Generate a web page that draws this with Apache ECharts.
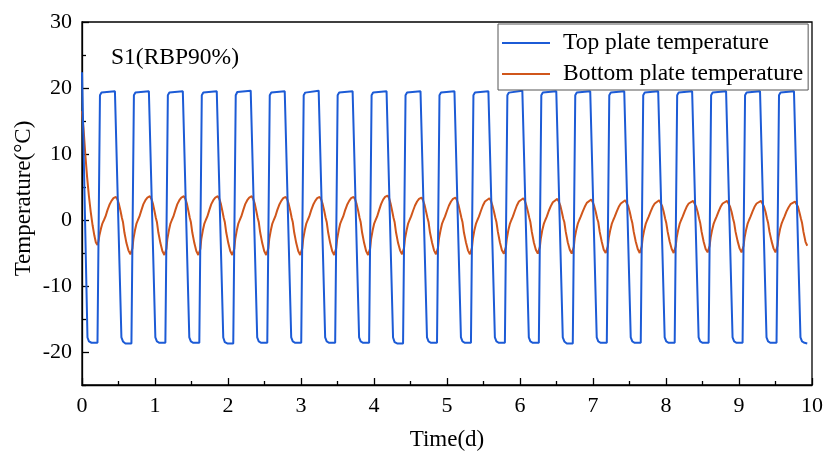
<!DOCTYPE html>
<html>
<head>
    <meta charset="utf-8">
    <title>S1 plate temperature</title>
    <script src="https://cdn.jsdelivr.net/npm/echarts@6/dist/echarts.min.js"></script>
    <style>
        html, body { margin: 0; padding: 0; background: #fff; }
        #main { width: 826px; height: 456px; }
    </style>
</head>
<body>
    <div id="main"></div>
    <script>
        // start of each rise of the top plate (days)
        var cycleStart = [0.212, 0.677, 1.142, 1.607, 2.072, 2.538, 3.003, 3.468, 3.933, 4.398,
            4.863, 5.328, 5.793, 6.258, 6.723, 7.189, 7.654, 8.119, 8.584, 9.049, 9.514];

        // top plate: points inside one cycle (days after cycle start) and the values per cycle
        var topOffset = [0, 0.034, 0.055, 0.082, 0.239, 0.328, 0.349, 0.383];
        var topRows = [
            [-18.6, 18.9, 19.3, 19.5, 19.5, -17.8, -18.4, -18.7],
            [-18.7, 18.9, 19.3, 19.4, 19.5, -17.8, -18.4, -18.6],
            [-18.6, 18.9, 19.3, 19.5, 19.5, -17.8, -18.4, -18.6],
            [-18.6, 18.9, 19.3, 19.5, 19.5, -17.8, -18.5, -18.7],
            [-18.7, 18.9, 19.4, 19.5, 19.6, -17.8, -18.4, -18.6],
            [-18.6, 18.9, 19.3, 19.5, 19.5, -17.8, -18.4, -18.6],
            [-18.6, 18.9, 19.3, 19.5, 19.6, -17.8, -18.4, -18.6],
            [-18.6, 18.9, 19.3, 19.4, 19.5, -17.8, -18.4, -18.6],
            [-18.6, 18.9, 19.3, 19.5, 19.5, -17.8, -18.5, -18.7],
            [-18.7, 18.9, 19.3, 19.5, 19.5, -17.8, -18.4, -18.6],
            [-18.6, 18.9, 19.3, 19.5, 19.5, -17.8, -18.4, -18.6],
            [-18.6, 18.9, 19.3, 19.4, 19.5, -17.8, -18.4, -18.6],
            [-18.6, 18.9, 19.3, 19.5, 19.6, -17.8, -18.4, -18.6],
            [-18.6, 18.9, 19.3, 19.5, 19.5, -17.8, -18.4, -18.7],
            [-18.7, 18.9, 19.3, 19.5, 19.5, -17.8, -18.4, -18.6],
            [-18.6, 18.9, 19.3, 19.4, 19.5, -17.8, -18.4, -18.6],
            [-18.6, 18.9, 19.3, 19.5, 19.5, -17.8, -18.4, -18.6],
            [-18.6, 18.9, 19.3, 19.5, 19.5, -17.8, -18.4, -18.6],
            [-18.6, 18.9, 19.3, 19.4, 19.5, -17.8, -18.4, -18.6],
            [-18.6, 18.9, 19.3, 19.5, 19.5, -17.8, -18.4, -18.6],
            [-18.6, 18.9, 19.3, 19.5, 19.5, -17.8, -18.4, -18.6]
        ];
        var topHead = [[0, 22.4], [0.075, -17.8], [0.095, -18.4], [0.13, -18.6]];
        var topTail = [[9.935, -18.7]];

        // bottom plate: same idea, denser points per cycle
        var bottomOffset = [0, 0.014, 0.027, 0.048, 0.068, 0.089, 0.109, 0.137, 0.164, 0.192, 0.219,
            0.253, 0.274, 0.294, 0.315, 0.335, 0.349, 0.369, 0.397, 0.424, 0.451];
        var bottomRows = [
            [-3.8, -3.2, -2.3, -1.3, -0.5, 0.0, 0.5, 1.5, 2.3, 2.9, 3.3, 3.5, 3.1, 2.4, 1.4, 0.3, -0.3, -1.9, -3.5, -4.6, -5.2],
            [-5.5, -4.3, -2.9, -1.6, -0.6, 0.0, 0.5, 1.5, 2.4, 3.0, 3.4, 3.6, 3.2, 2.5, 1.4, 0.3, -0.3, -1.9, -3.5, -4.7, -5.3],
            [-5.6, -4.4, -2.9, -1.6, -0.6, 0.0, 0.5, 1.5, 2.4, 3.0, 3.4, 3.6, 3.2, 2.5, 1.4, 0.3, -0.3, -1.9, -3.5, -4.7, -5.3],
            [-5.6, -4.4, -2.9, -1.6, -0.6, 0.0, 0.5, 1.5, 2.4, 3.0, 3.4, 3.6, 3.2, 2.5, 1.4, 0.3, -0.3, -1.9, -3.5, -4.7, -5.3],
            [-5.6, -4.4, -2.9, -1.6, -0.6, 0.0, 0.5, 1.5, 2.4, 3.0, 3.4, 3.6, 3.2, 2.5, 1.4, 0.3, -0.3, -1.9, -3.5, -4.7, -5.3],
            [-5.5, -4.3, -2.9, -1.6, -0.6, 0.0, 0.5, 1.5, 2.3, 2.9, 3.3, 3.5, 3.1, 2.4, 1.4, 0.3, -0.3, -1.9, -3.5, -4.7, -5.3],
            [-5.5, -4.3, -2.9, -1.6, -0.6, 0.0, 0.5, 1.5, 2.3, 2.9, 3.3, 3.5, 3.1, 2.4, 1.4, 0.3, -0.3, -1.9, -3.5, -4.7, -5.3],
            [-5.5, -4.3, -2.9, -1.6, -0.6, 0.0, 0.5, 1.5, 2.3, 2.9, 3.3, 3.5, 3.1, 2.4, 1.4, 0.3, -0.3, -1.9, -3.5, -4.7, -5.3],
            [-5.5, -4.3, -2.9, -1.6, -0.6, 0.0, 0.5, 1.5, 2.4, 3.1, 3.5, 3.7, 3.3, 2.5, 1.4, 0.3, -0.3, -1.9, -3.5, -4.6, -5.2],
            [-5.4, -4.2, -2.8, -1.6, -0.6, 0.0, 0.5, 1.4, 2.2, 2.8, 3.2, 3.4, 3.0, 2.3, 1.3, 0.3, -0.3, -1.9, -3.4, -4.6, -5.2],
            [-5.4, -4.2, -2.8, -1.6, -0.6, 0.0, 0.5, 1.4, 2.2, 2.8, 3.2, 3.4, 3.0, 2.3, 1.3, 0.3, -0.3, -1.9, -3.4, -4.6, -5.2],
            [-5.4, -4.2, -2.8, -1.5, -0.6, 0.0, 0.5, 1.4, 2.2, 2.8, 3.1, 3.3, 2.9, 2.2, 1.3, 0.3, -0.3, -1.8, -3.4, -4.6, -5.1],
            [-5.3, -4.1, -2.8, -1.5, -0.6, 0.0, 0.5, 1.4, 2.2, 2.8, 3.1, 3.3, 2.9, 2.2, 1.3, 0.3, -0.3, -1.8, -3.4, -4.5, -5.1],
            [-5.3, -4.1, -2.8, -1.5, -0.6, 0.0, 0.5, 1.4, 2.1, 2.7, 3.0, 3.2, 2.8, 2.2, 1.2, 0.2, -0.3, -1.8, -3.4, -4.5, -5.1],
            [-5.3, -4.1, -2.7, -1.5, -0.6, 0.0, 0.5, 1.3, 2.0, 2.6, 2.9, 3.1, 2.7, 2.1, 1.2, 0.2, -0.3, -1.8, -3.3, -4.5, -5.0],
            [-5.2, -4.0, -2.7, -1.5, -0.6, 0.0, 0.5, 1.3, 2.0, 2.5, 2.8, 3.0, 2.7, 2.1, 1.2, 0.2, -0.4, -1.8, -3.3, -4.4, -5.0],
            [-5.2, -4.0, -2.7, -1.5, -0.6, 0.0, 0.5, 1.3, 2.0, 2.5, 2.8, 3.0, 2.7, 2.1, 1.2, 0.2, -0.4, -1.8, -3.3, -4.4, -5.0],
            [-5.2, -4.0, -2.7, -1.5, -0.6, 0.0, 0.5, 1.3, 2.0, 2.5, 2.8, 2.9, 2.6, 2.0, 1.2, 0.2, -0.4, -1.8, -3.3, -4.4, -4.9],
            [-5.1, -3.9, -2.7, -1.5, -0.6, 0.0, 0.5, 1.3, 2.0, 2.5, 2.8, 2.9, 2.6, 2.0, 1.2, 0.2, -0.4, -1.8, -3.2, -4.3, -4.9],
            [-5.1, -3.9, -2.7, -1.5, -0.6, 0.0, 0.5, 1.3, 2.0, 2.5, 2.8, 2.9, 2.6, 2.0, 1.2, 0.2, -0.4, -1.8, -3.2, -4.3, -4.9],
            [-5.0, -3.9, -2.6, -1.4, -0.6, 0.0, 0.5, 1.3, 1.9, 2.4, 2.7, 2.8, 2.5, 2.0, 1.1, 0.2, -0.4, -1.8, -3.3]
        ];
        var bottomHead = [[0, 16.5], [0.02, 14], [0.045, 10], [0.07, 6.5], [0.095, 3.6],
            [0.12, 1.2], [0.145, -0.8], [0.17, -2.4], [0.19, -3.4]];
        var bottomTail = [[9.935, -3.9]];

        var yMajor = [-20, -10, 0, 10, 20, 30];
        var yMinor = [-25, -15, -5, 5, 15, 25];

        // join head + cycles + tail into [t, value] pairs
        function build(head, offs, rows, tail) {
            var out = head.slice();
            for (var k = 0; k < rows.length; k++) {
                for (var j = 0; j < rows[k].length; j++) {
                    out.push([+(cycleStart[k] + offs[j]).toFixed(3), rows[k][j]]);
                }
            }
            return out.concat(tail);
        }
        var topData = build(topHead, topOffset, topRows, topTail);
        var bottomData = build(bottomHead, bottomOffset, bottomRows, bottomTail);

        var FONT = '"Liberation Serif", "Times New Roman", serif';
        var chart = echarts.init(document.getElementById('main'));
        chart.setOption({
            animation: false,
            backgroundColor: '#fff',
            grid: {
                left: 82, right: 13, top: 22, bottom: 71,
                show: true, borderColor: '#000', borderWidth: 1.3
            },
            legend: {
                orient: 'vertical',
                left: 498, top: 24,
                padding: [7, 5, 4, 4],
                icon: 'rect',
                itemWidth: 48, itemHeight: 2, itemGap: 7,
                borderColor: '#555', borderWidth: 1,
                backgroundColor: '#fff',
                textStyle: { fontFamily: FONT, fontSize: 23.5, color: '#000', lineHeight: 23, padding: [0, 0, 0, 8] },
                data: ['Top plate temperature', 'Bottom plate temperature']
            },
            graphic: [{
                type: 'text', left: 111, top: 46,
                style: { text: 'S1(RBP90%)', font: '23.5px ' + FONT, fill: '#000' }
            }],
            xAxis: {
                type: 'value', min: 0, max: 10, interval: 1,
                name: 'Time(d)', nameLocation: 'middle', nameGap: 43,
                nameTextStyle: { fontFamily: FONT, fontSize: 23, color: '#000' },
                axisLine: { onZero: false, lineStyle: { color: '#000', width: 1.3 } },
                axisTick: { inside: true, length: 7, lineStyle: { color: '#000', width: 1.3 } },
                minorTick: { show: true, splitNumber: 2, length: 4, lineStyle: { color: '#000', width: 1.3 } },
                axisLabel: { fontFamily: FONT, fontSize: 22, color: '#000', margin: 10 },
                splitLine: { show: false }
            },
            yAxis: [{
                type: 'value', min: -25, max: 30,
                name: 'Temperature(°C)', nameLocation: 'middle', nameGap: 47,
                nameMoveOverlap: false,
                nameTextStyle: { fontFamily: FONT, fontSize: 23, color: '#000', padding: [0, 0, 0, 10] },
                axisLine: { show: true, onZero: false, lineStyle: { color: '#000', width: 1.3 } },
                axisTick: { show: true, inside: true, length: 7, customValues: yMajor, lineStyle: { color: '#000', width: 1.3 } },
                axisLabel: { fontFamily: FONT, fontSize: 22, color: '#000', margin: 10, customValues: yMajor },
                splitLine: { show: false }
            }, {
                type: 'value', min: -25, max: 30, position: 'left',
                axisLine: { show: false, onZero: false },
                axisTick: { show: true, inside: true, length: 4, customValues: yMinor, lineStyle: { color: '#000', width: 1.3 } },
                axisLabel: { show: false },
                splitLine: { show: false }
            }],
            series: [{
                name: 'Bottom plate temperature',
                type: 'line', symbol: 'none', z: 2,
                lineStyle: { color: '#d0561b', width: 2 },
                itemStyle: { color: '#d0561b' },
                data: bottomData
            }, {
                name: 'Top plate temperature',
                type: 'line', symbol: 'none', z: 3,
                lineStyle: { color: '#1c5bd6', width: 2 },
                itemStyle: { color: '#1c5bd6' },
                data: topData
            }]
        });
    </script>
</body>
</html>
